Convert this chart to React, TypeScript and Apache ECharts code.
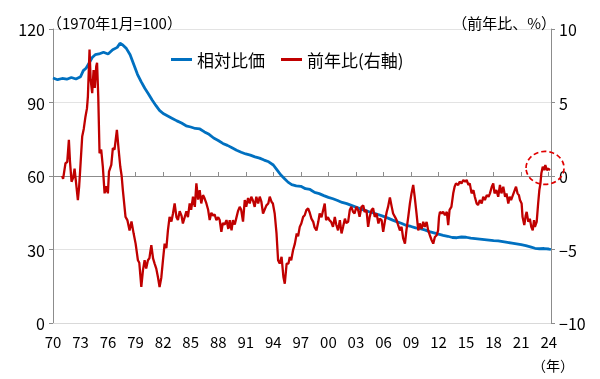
import React, { useEffect, useRef } from "react";
import * as echarts from "echarts";

// x tick labels (every 3 years, 1970..2024)
const xTickLabels = ["70", "73", "76", "79", "82", "85", "88", "91", "94", "97", "00", "03", "06", "09", "12", "15", "18", "21", "24"];

// 相対比価 (1970年1月=100), left axis
const relYears = [
  1970.0, 1970.5, 1971.0, 1971.5, 1972.0, 1972.5, 1973.0, 1973.3, 1973.6, 1974.0, 1974.3, 1974.6, 1975.0, 1975.5, 1976.0, 1976.5,
  1977.0, 1977.3, 1977.6, 1978.0, 1978.4, 1978.8, 1979.2, 1979.6, 1980.0, 1980.4, 1980.8, 1981.2, 1981.6, 1982.0, 1982.5, 1983.0,
  1983.5, 1984.0, 1984.5, 1985.0, 1985.5, 1986.0, 1986.5, 1987.0, 1987.5, 1988.0, 1988.5, 1989.0, 1989.5, 1990.0, 1990.5, 1991.0,
  1991.5, 1992.0, 1992.5, 1993.0, 1993.5, 1994.0, 1994.4, 1994.8, 1995.2, 1995.6, 1996.0, 1996.5, 1997.0, 1997.5, 1998.0, 1998.5,
  1999.0, 1999.5, 2000.0, 2000.5, 2001.0, 2001.5, 2002.0, 2002.5, 2003.0, 2003.5, 2004.0, 2004.5, 2005.0, 2005.5, 2006.0, 2006.5,
  2007.0, 2007.5, 2008.0, 2008.5, 2009.0, 2009.5, 2010.0, 2010.5, 2011.0, 2011.5, 2012.0, 2012.5, 2013.0, 2013.5, 2014.0, 2014.5,
  2015.0, 2015.5, 2016.0, 2016.5, 2017.0, 2017.5, 2018.0, 2018.5, 2019.0, 2019.5, 2020.0, 2020.5, 2021.0, 2021.5, 2022.0, 2022.5,
  2023.0, 2023.5, 2024.0, 2024.25,
];
const relValues = [
  100, 99.3, 99.8, 99.5, 100.2, 99.6, 100.5, 103, 104, 106.5, 108.5, 109.5, 109.8, 110.5, 109.8, 111.5,
  112.5, 114.2, 113.5, 112, 109.5, 105.5, 101.5, 98.5, 95.8, 93.5, 91, 88.8, 86.8, 85.5, 84.5, 83.5,
  82.5, 81.6, 80.5, 80, 79.4, 79.2, 78, 77, 75.5, 74.5, 73.3, 72.5, 71.5, 70.5, 69.7, 69,
  68.5, 67.8, 67.3, 66.5, 65.8, 64.5, 62.5, 60.5, 59, 57.5, 56.5, 56, 55.8, 54.8, 54.5, 53.3,
  52.8, 52, 51.3, 50.7, 50, 49.2, 48.7, 48, 47.3, 46.6, 46, 45.3, 44.8, 44.2, 43.5, 42.8,
  42, 41.3, 40.6, 39.8, 39.4, 38.8, 38.5, 38, 37.3, 36.8, 36.3, 35.8, 35.4, 34.9, 34.8, 35.1,
  35, 34.6, 34.4, 34.2, 34, 33.8, 33.6, 33.5, 33.2, 32.9, 32.6, 32.3, 32, 31.6, 31.1, 30.5,
  30.3, 30.4, 30.2, 30,
];

// 前年比 (%), right axis
const yoyYears = [
  1971.0, 1971.1, 1971.36, 1971.55, 1971.73, 1971.85, 1972.02, 1972.2, 1972.35, 1972.5, 1972.71, 1972.85, 1972.96, 1973.18, 1973.35, 1973.54,
  1973.7, 1973.8, 1973.98, 1974.1, 1974.27, 1974.42, 1974.55, 1974.71, 1974.8, 1974.93, 1975.07, 1975.25, 1975.43, 1975.62, 1975.8, 1975.98,
  1976.1, 1976.35, 1976.52, 1976.7, 1976.96, 1977.15, 1977.33, 1977.48, 1977.61, 1977.9, 1978.1, 1978.34, 1978.55, 1978.78, 1979.0, 1979.25,
  1979.4, 1979.62, 1979.8, 1979.98, 1980.15, 1980.34, 1980.5, 1980.71, 1980.9, 1981.07, 1981.25, 1981.43, 1981.61, 1981.8, 1981.98, 1982.16,
  1982.35, 1982.52, 1982.7, 1982.9, 1983.07, 1983.25, 1983.45, 1983.61, 1983.8, 1984.0, 1984.15, 1984.35, 1984.53, 1984.7, 1984.89, 1985.05,
  1985.25, 1985.45, 1985.62, 1985.8, 1985.98, 1986.15, 1986.34, 1986.5, 1986.71, 1986.9, 1987.07, 1987.25, 1987.43, 1987.6, 1987.8, 1988.0,
  1988.16, 1988.34, 1988.5, 1988.7, 1988.9, 1989.1, 1989.25, 1989.45, 1989.6, 1989.8, 1990.0, 1990.15, 1990.34, 1990.5, 1990.7, 1990.89,
  1991.05, 1991.25, 1991.43, 1991.6, 1991.8, 1991.97, 1992.15, 1992.35, 1992.52, 1992.7, 1992.88, 1993.05, 1993.25, 1993.45, 1993.61, 1993.8,
  1993.95, 1994.15, 1994.35, 1994.52, 1994.7, 1994.9, 1995.1, 1995.25, 1995.45, 1995.65, 1995.79, 1995.95, 1996.15, 1996.35, 1996.55, 1996.7,
  1996.88, 1997.05, 1997.25, 1997.42, 1997.6, 1997.79, 1997.97, 1998.15, 1998.35, 1998.5, 1998.7, 1998.9, 1999.05, 1999.25, 1999.4, 1999.6,
  1999.75, 1999.95, 2000.1, 2000.3, 2000.5, 2000.7, 2000.85, 2001.05, 2001.25, 2001.43, 2001.6, 2001.8, 2001.95, 2002.15, 2002.33, 2002.5,
  2002.7, 2002.85, 2003.05, 2003.24, 2003.4, 2003.6, 2003.8, 2003.95, 2004.15, 2004.33, 2004.5, 2004.7, 2004.87, 2005.05, 2005.25, 2005.45,
  2005.6, 2005.8, 2005.97, 2006.15, 2006.35, 2006.5, 2006.7, 2006.9, 2007.05, 2007.25, 2007.43, 2007.6, 2007.79, 2007.97, 2008.15, 2008.34,
  2008.5, 2008.7, 2008.88, 2009.05, 2009.24, 2009.4, 2009.6, 2009.79, 2009.95, 2010.15, 2010.33, 2010.5, 2010.7, 2010.87, 2011.05, 2011.25,
  2011.42, 2011.6, 2011.8, 2011.95, 2012.05, 2012.15, 2012.35, 2012.5, 2012.7, 2012.9, 2013.05, 2013.2, 2013.4, 2013.6, 2013.75, 2013.9,
  2014.14, 2014.3, 2014.5, 2014.7, 2014.9, 2015.06, 2015.25, 2015.4, 2015.6, 2015.8, 2015.95, 2016.15, 2016.3, 2016.5, 2016.7, 2016.87,
  2017.05, 2017.25, 2017.45, 2017.6, 2017.8, 2017.96, 2018.1, 2018.3, 2018.5, 2018.69, 2018.85, 2019.05, 2019.25, 2019.4, 2019.6, 2019.75,
  2019.9, 2020.1, 2020.3, 2020.44, 2020.6, 2020.75, 2020.87, 2021.05, 2021.15, 2021.34, 2021.5, 2021.6, 2021.78, 2021.95, 2022.1, 2022.26,
  2022.4, 2022.5, 2022.69, 2022.85, 2022.98, 2023.1, 2023.2, 2023.35, 2023.5, 2023.63, 2023.8, 2023.95, 2024.14,
];
const yoyValues = [
  0.0, -0.2, 0.87, 0.95, 2.46, 1.0, -0.39, -0.1, 0.5, -0.4, -1.64, -0.7, 0.4, 2.68, 3.2, 4.05,
  4.6, 5.4, 8.6, 6.55, 5.64, 7.2, 6.0, 7.46, 7.7, 5.4, 1.55, 1.8, 0.63, -1.18, -0.7, -1.18,
  0.3, 0.75, 1.9, 1.8, 3.14, 1.8, 0.63, 0.0, -0.96, -2.78, -3.0, -3.7, -3.1, -3.9, -4.6, -5.73,
  -5.9, -7.55, -6.4, -5.73, -6.3, -5.73, -5.6, -4.7, -5.6, -5.96, -6.3, -6.87, -7.55, -6.9, -5.73, -4.6,
  -4.9, -3.7, -2.78, -3.1, -2.55, -1.87, -2.8, -3.0, -2.4, -2.7, -3.23, -2.8, -2.4, -2.8, -1.87, -2.3,
  -1.41, -2.1, -0.5, -1.6, -0.96, -1.87, -1.3, -1.5, -1.87, -2.3, -3.0, -2.5, -2.7, -2.6, -3.0, -2.8,
  -3.0, -3.8, -3.2, -3.3, -3.0, -3.6, -3.0, -3.7, -3.0, -3.3, -2.78, -2.4, -2.1, -2.3, -3.1, -1.64,
  -2.1, -1.5, -1.87, -1.41, -1.7, -2.1, -1.41, -1.87, -1.41, -1.75, -2.55, -2.3, -2.0, -1.87, -1.41, -1.75,
  -1.87, -2.55, -3.91, -5.73, -5.96, -5.5, -6.87, -7.33, -5.96, -5.96, -5.5, -5.73, -5.05, -4.6, -3.91, -4.1,
  -3.46, -3.23, -2.78, -2.67, -2.32, -2.2, -2.5, -2.9, -3.12, -3.5, -3.7, -3.12, -2.55, -2.8, -2.4, -1.87,
  -3.0, -2.8, -3.0, -3.12, -3.46, -2.78, -3.3, -3.7, -3.0, -3.91, -3.46, -2.9, -3.2, -3.12, -2.32, -2.1,
  -2.45, -2.55, -2.1, -2.32, -2.78, -2.1, -2.0, -2.45, -2.32, -3.46, -2.78, -2.32, -2.2, -2.78, -2.55, -3.23,
  -2.9, -3.0, -3.8, -3.1, -2.45, -2.1, -1.46, -2.1, -2.55, -2.78, -3.0, -3.34, -3.7, -3.46, -4.25, -4.6,
  -3.7, -2.78, -1.87, -1.2, -0.61, -1.41, -2.55, -3.7, -3.23, -3.6, -3.12, -3.46, -3.12, -3.7, -4.03, -4.37,
  -4.6, -4.15, -4.03, -3.7, -2.78, -2.44, -2.55, -2.44, -2.67, -2.44, -3.34, -2.3, -2.1, -1.18, -0.73, -0.5,
  -0.61, -0.39, -0.5, -0.27, -0.39, -0.27, -0.61, -0.5, -1.18, -0.96, -1.41, -1.87, -1.98, -1.64, -1.87, -1.41,
  -1.64, -1.3, -1.41, -1.18, -0.73, -0.5, -1.18, -0.96, -1.41, -0.61, -1.18, -0.73, -1.41, -1.18, -1.87, -1.41,
  -1.64, -1.3, -0.96, -0.73, -1.18, -1.3, -1.64, -1.87, -2.78, -3.34, -2.67, -2.44, -3.12, -2.9, -3.46, -3.7,
  -3.0, -3.46, -3.12, -1.87, -0.96, -0.5, 0.18, 0.63, 0.4, 0.75, 0.4, 0.5, 0.4,
];

// highlighted point (dashed circle)
const circleYear = 2023.6;
const circleValue = 0.55;

const BASE_YEAR = 1970;
const FONT = '"Noto Sans CJK JP", "Noto Sans", sans-serif';

export default function App() {
  const ref = useRef<HTMLDivElement>(null);
  useEffect(() => {
    const chart = echarts.init(ref.current!, null, { renderer: "svg" });
    const relData = relYears.map((y, i) => [y - BASE_YEAR, relValues[i]]);
    const yoyData = yoyYears.map((y, i) => [y - BASE_YEAR, yoyValues[i]]);
    const axisGray = "#8c8c8c";
    chart.setOption({
      animation: false,
      textStyle: { fontFamily: FONT },
      grid: { left: 53, right: 49, top: 29, bottom: 56, outerBoundsMode: "none" },
      legend: {
        left: 166,
        top: 46,
        itemWidth: 21,
        itemHeight: 3,
        itemGap: 16,
        icon: "rect",
        textStyle: { fontFamily: FONT, fontSize: 17, color: "#000" },
        data: ["相対比価", "前年比(右軸)"],
      },
      xAxis: [
        {
          type: "value",
          min: 0,
          max: 54.25,
          interval: 3,
          position: "bottom",
          axisLine: { show: true, onZero: false, lineStyle: { color: "#d9d9d9", width: 1 } },
          axisTick: { show: false },
          splitLine: { show: false },
          axisLabel: {
            fontFamily: FONT,
            fontSize: 15,
            color: "#000",
            margin: 11,
            formatter: (v: number) => xTickLabels[Math.round(v / 3)] ?? "",
          },
        },
        {
          type: "value",
          min: 0,
          max: 54.25,
          interval: 3,
          position: "top",
          axisLine: { show: true, onZero: true, onZeroAxisIndex: 1, lineStyle: { color: axisGray, width: 1 } },
          axisTick: { show: true, inside: false, length: 4, lineStyle: { color: axisGray } },
          splitLine: { show: false },
          axisLabel: { show: false },
        },
      ],
      yAxis: [
        {
          type: "value",
          min: 0,
          max: 120,
          interval: 30,
          position: "left",
          axisLine: { show: true, onZero: false, lineStyle: { color: axisGray } },
          axisTick: { show: true, length: 4, lineStyle: { color: axisGray } },
          splitLine: { show: true, lineStyle: { color: "#e3e3e3", width: 1 } },
          axisLabel: { fontFamily: FONT, fontSize: 16, color: "#000", margin: 8 },
        },
        {
          type: "value",
          min: -10,
          max: 10,
          interval: 5,
          position: "right",
          axisLine: { show: true, onZero: false, lineStyle: { color: axisGray } },
          axisTick: { show: true, length: 4, lineStyle: { color: axisGray } },
          splitLine: { show: false },
          axisLabel: {
            fontFamily: FONT,
            fontSize: 16,
            color: "#000",
            margin: 8,
            formatter: (v: number) => (v < 0 ? "−" + Math.abs(v) : String(v)),
          },
        },
      ],
      series: [
        {
          name: "相対比価",
          type: "line",
          xAxisIndex: 0,
          yAxisIndex: 0,
          data: relData,
          showSymbol: false,
          lineStyle: { color: "#0070c0", width: 2.8 },
          itemStyle: { color: "#0070c0" },
          z: 2,
        },
        {
          name: "前年比(右軸)",
          type: "line",
          xAxisIndex: 0,
          yAxisIndex: 1,
          data: yoyData,
          showSymbol: false,
          lineStyle: { color: "#c00000", width: 2.3 },
          itemStyle: { color: "#c00000" },
          z: 3,
        },
      ],
    });

    const c = chart.convertToPixel({ seriesIndex: 1 }, [circleYear - BASE_YEAR, circleValue]) as number[];
    chart.setOption({
      graphic: [
        {
          type: "text",
          left: 47,
          top: 15,
          style: { text: "（1970年1月=100）", font: `15px ${FONT}`, fill: "#000" },
        },
        {
          type: "text",
          right: 44,
          top: 15,
          style: { text: "（前年比、%）", font: `15px ${FONT}`, fill: "#000" },
        },
        {
          type: "text",
          right: 26,
          top: 358,
          style: { text: "（年）", font: `14px ${FONT}`, fill: "#000" },
        },
        {
          type: "ellipse",
          shape: { cx: c[0], cy: c[1], rx: 19, ry: 16.5 },
          style: { fill: "none", stroke: "#e00000", lineWidth: 1.7, lineDash: [5, 3] },
          z: 10,
        },
      ],
    });
    return () => chart.dispose();
  }, []);
  return <div ref={ref} style={{ position: "fixed", left: 0, top: 0, width: 600, height: 379 }} />;
}
